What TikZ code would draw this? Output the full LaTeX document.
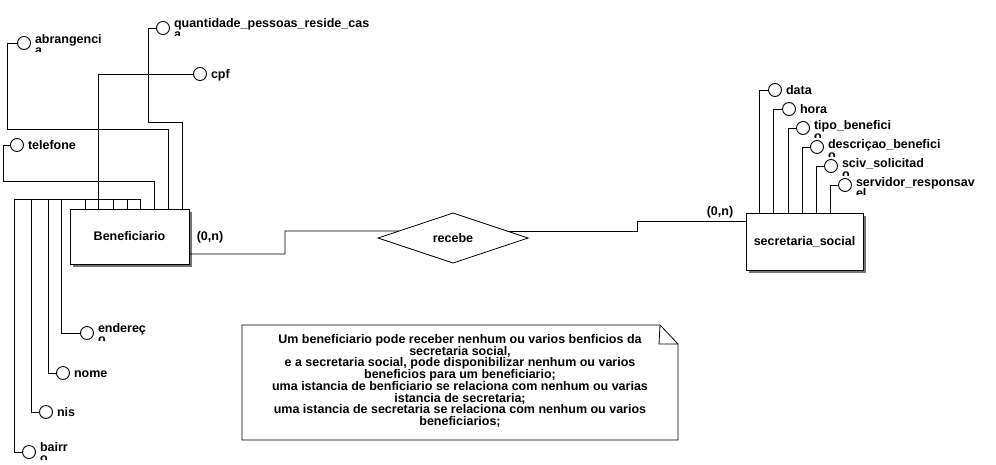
\documentclass[tikz,border=0pt]{standalone}
\usepackage{fontspec}
\setmainfont{Liberation Sans}
\usetikzlibrary{shapes.geometric,shadows,calc}
\newcommand\lblfont{\fontsize{12.5}{11.7}\selectfont\bfseries\lineskiplimit=-20pt\relax}
\tikzset{
  lbl/.style={font=\lblfont, inner sep=0pt, outer sep=0pt},
  attr/.style={circle, draw, line width=0.9pt, minimum size=13pt, inner sep=0pt, fill=white},
  ent/.style={draw, line width=0.9pt, fill=white, inner sep=0pt, lbl,
    drop shadow={shadow xshift=3pt, shadow yshift=-3pt, fill=black!55, opacity=1}},
  relshape/.style={diamond, draw, line width=0.8pt, inner sep=0pt, aspect=3, lbl},
  conn/.style={line width=0.9pt},
}
\newcommand\twolbl[5]{%
  \begin{scope}
    \clip (#2-1,#3-8.6) rectangle (#2+260,#3+8);
    \node[lbl, anchor=base west] (#1) at (#2,#3) {#4};
    \node[lbl, anchor=base west] (#1b) at (#2,#3+11.7) {#5};
  \end{scope}}
\newcommand\onelbl[4]{%
  \node[lbl, anchor=base west] (#1) at (#2,#3+4.4) {#4};}
\begin{document}
\begin{tikzpicture}[x=1pt,y=-1pt]
\useasboundingbox (0,0) rectangle (996,464);

% entities
\node[ent, minimum width=119pt, minimum height=55pt] (ben) at (129.5,236.5) {Beneficiario};
\node[ent, minimum width=117pt, minimum height=57pt] (sec) at (804.5,241.5) {secretaria\_social};
\node[relshape, minimum width=150pt, minimum height=50pt] (rel) at (453,238) {recebe};

% attribute circles (left)
\node[attr] (cabr) at (24,43) {};
\node[attr] (cqtd) at (163,28) {};
\node[attr] (ccpf) at (200,74) {};
\node[attr] (ctel) at (17,145) {};
\node[attr] (cend) at (87,333) {};
\node[attr] (cnom) at (63,373) {};
\node[attr] (cnis) at (46,412) {};
\node[attr] (cbai) at (29,452) {};
% attribute circles (right)
\node[attr] (cdat) at (775,90) {};
\node[attr] (chor) at (789,109) {};
\node[attr] (ctip) at (803,128) {};
\node[attr] (cdes) at (817,147) {};
\node[attr] (csci) at (831,166) {};
\node[attr] (cser) at (845,185) {};

% labels
\twolbl{labr}{35}{43}{abrangenci}{a}
\twolbl{lqtd}{174}{27}{quantidade\_pessoas\_reside\_cas}{a}
\onelbl{lcpf}{211}{74}{cpf}
\onelbl{ltel}{28}{145}{telefone}
\twolbl{lend}{98}{332}{endereç}{o}
\onelbl{lnom}{74}{373}{nome}
\onelbl{lnis}{57}{412}{nis}
\twolbl{lbai}{40}{451}{bairr}{o}
\onelbl{ldat}{786}{90}{data}
\onelbl{lhor}{800}{109}{hora}
\twolbl{ltip}{814}{129}{tipo\_benefici}{o}
\twolbl{ldes}{828}{148}{descriçao\_benefici}{o}
\twolbl{lsci}{842}{167}{sciv\_solicitad}{o}
\twolbl{lser}{856}{186}{servidor\_responsav}{el}

% connectors left
\draw[conn] (cbai.west) -| (14,199) -| ($(ben.north west)+(70,0)$);
\draw[conn] (cnis.west) -| (31,199) -| ($(ben.north west)+(57,0)$);
\draw[conn] (cnom.west) -| (48,199) -| ($(ben.north west)+(43,0)$);
\draw[conn] (cend.west) -| (61,199) -| ($(ben.north west)+(15,0)$);
\draw[conn] (ccpf.west) -| ($(ben.north west)+(28,0)$);
\draw[conn] (ctel.west) -| (3,181) -| ($(ben.north west)+(84,0)$);
\draw[conn] (cabr.west) -| (7,129) -| ($(ben.north west)+(98,0)$);
\draw[conn] (cqtd.west) -| (148,122) -| ($(ben.north west)+(112,0)$);
% connectors right
\draw[conn] (cdat.west) -| ($(sec.north west)+(13,0)$);
\draw[conn] (chor.west) -| ($(sec.north west)+(27,0)$);
\draw[conn] (ctip.west) -| ($(sec.north west)+(42,0)$);
\draw[conn] (cdes.west) -| ($(sec.north west)+(56,0)$);
\draw[conn] (csci.west) -| ($(sec.north west)+(70,0)$);
\draw[conn] (cser.west) -| ($(sec.north west)+(84,0)$);

% relationship
\draw[conn] ($(ben.south east)+(0,-10)$) -| (285,231) -- ($(rel.west)!0.28!(rel.north)$);
\draw[conn] ($(rel.east)!0.28!(rel.north)$) -| (637,221) -- ($(sec.north west)+(0,8)$);
\node[lbl] (card1) at (210,237) {(0,n)};
\node[lbl] (card2) at (720,212) {(0,n)};

% note
\draw[line width=0.8pt] (242,325) -- (660,325) -- (678,344) -- (678,440) -- (242,440) -- cycle;
\draw[line width=0.8pt] (660,325) -- (659,344) -- (678,344);
\node[lbl, align=center, anchor=north] (note) at (460,334.5) {Um beneficiario pode receber nenhum ou varios benficios da\\
secretaria social,\\
e a secretaria social, pode disponibilizar nenhum ou varios\\
beneficios para um beneficiario;\\
uma istancia de benficiario se relaciona com nenhum ou varias\\
istancia de secretaria;\\
uma istancia de secretaria se relaciona com nenhum ou varios\\
beneficiarios;};
\end{tikzpicture}
\end{document}
